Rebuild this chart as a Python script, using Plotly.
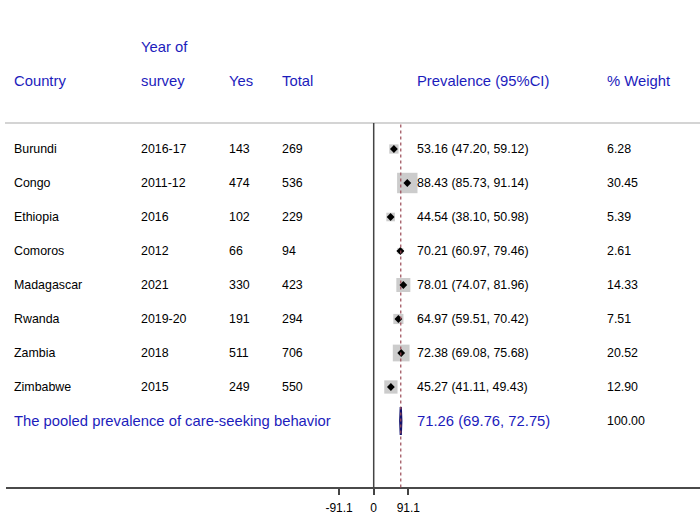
import plotly.graph_objects as go
import math

countries = ["Burundi", "Congo", "Ethiopia", "Comoros", "Madagascar", "Rwanda", "Zambia", "Zimbabwe"]
years = ["2016-17", "2011-12", "2016", "2012", "2021", "2019-20", "2018", "2015"]
yes = [143, 474, 102, 66, 330, 191, 511, 249]
total = [269, 536, 229, 94, 423, 294, 706, 550]
prev = [53.16, 88.43, 44.54, 70.21, 78.01, 64.97, 72.38, 45.27]
lci = [47.20, 85.73, 38.10, 60.97, 74.07, 59.51, 69.08, 41.11]
uci = [59.12, 91.14, 50.98, 79.46, 81.96, 70.42, 75.68, 49.43]
weight = [6.28, 30.45, 5.39, 2.61, 14.33, 7.51, 20.52, 12.90]

pooled_label = "The pooled prevalence of care-seeking behavior"
pooled_est, pooled_lci, pooled_uci = 71.26, 69.76, 72.75
pooled_weight = 100.00

tick_vals = [-91.1, 0, 91.1]
tick_text = ["-91.1", "0", "91.1"]

headers_top = ["", "Year of", "", "", "", ""]
headers = ["Country", "survey", "Yes", "Total", "Prevalence (95%CI)", "% Weight"]

W, H = 700, 531
BLUE = "#1c1cbc"
NAVY = "#12126e"
FONT = "Liberation Sans, Arial, sans-serif"
col_px = [14, 141, 229, 282, 417, 607]
PAD = 2  # annotation internal padding

rows = list(range(len(countries)))
pooled_row = len(countries)

fig = go.Figure()

# CI lines
for i in rows:
    fig.add_trace(go.Scatter(x=[lci[i], uci[i]], y=[i, i], mode="lines",
                             line=dict(color="black", width=1), showlegend=False, hoverinfo="skip"))

# weight boxes
fig.add_trace(go.Scatter(
    x=prev, y=rows, mode="markers",
    marker=dict(symbol="square", color="#b6b6b6",
                size=[3.7 * math.sqrt(w) for w in weight], line=dict(width=0)),
    showlegend=False, hoverinfo="skip"))

# point estimates
fig.add_trace(go.Scatter(
    x=prev, y=rows, mode="markers",
    marker=dict(symbol="diamond", color="black", size=6, line=dict(width=0)),
    showlegend=False, hoverinfo="skip"))

# pooled diamond
h = 0.41
fig.add_trace(go.Scatter(
    x=[pooled_lci, pooled_est, pooled_uci, pooled_est, pooled_lci],
    y=[pooled_row, pooled_row - h, pooled_row, pooled_row + h, pooled_row],
    mode="lines", fill="toself", fillcolor=NAVY,
    line=dict(color=NAVY, width=2.2), showlegend=False, hoverinfo="skip"))

shapes = []
shapes.append(dict(type="line", xref="paper", yref="y", x0=5 / W, x1=1, y0=-0.765, y1=-0.765,
                   line=dict(color="#d4d4d4", width=2)))
shapes.append(dict(type="line", xref="paper", yref="paper", x0=6 / W, x1=1, y0=0, y1=0,
                   line=dict(color="#4a4a4a", width=2)))
shapes.append(dict(type="line", xref="x", yref="y", x0=0, x1=0, y0=-0.765, y1=9.971,
                   line=dict(color="#444444", width=1.5)))
shapes.append(dict(type="line", xref="x", yref="y", x0=pooled_est, x1=pooled_est, y0=-0.72, y1=9.971,
                   line=dict(color="#9a4a55", width=1.2, dash="3px,3px")))

ann = []
def add_text(px, row, text, color="black", size=12.4):
    ann.append(dict(x=(px - PAD) / W, xref="paper", y=row, yref="y", text=text, showarrow=False,
                    xanchor="left", yanchor="middle", font=dict(family=FONT, size=size, color=color)))

for c, t in zip(col_px, headers_top):
    if t:
        add_text(c, -3, t, BLUE, 14.8)
for c, t in zip(col_px, headers):
    add_text(c, -2, t, BLUE, 14.8)

for i in rows:
    vals = [countries[i], years[i], str(yes[i]), str(total[i]),
            f"{prev[i]:.2f} ({lci[i]:.2f}, {uci[i]:.2f})", f"{weight[i]:.2f}"]
    for c, t in zip(col_px, vals):
        add_text(c, i, t)

add_text(col_px[0], pooled_row, pooled_label, BLUE, 14.8)
add_text(col_px[4], pooled_row, f"{pooled_est:.2f} ({pooled_lci:.2f}, {pooled_uci:.2f})", BLUE, 14.8)
add_text(col_px[5], pooled_row, f"{pooled_weight:.2f}")

fig.update_layout(
    width=W, height=H,
    margin=dict(l=0, r=0, t=0, b=43),
    paper_bgcolor="white", plot_bgcolor="white",
    shapes=shapes, annotations=ann,
    xaxis=dict(range=[-983.9, 859.1], showgrid=False, zeroline=False, showline=False,
               tickmode="array", tickvals=tick_vals, ticktext=tick_text,
               ticks="outside", ticklen=6, tickwidth=1.5, tickcolor="#444444",
               ticklabelstandoff=3,
               tickfont=dict(family=FONT, size=12, color="black")),
    yaxis=dict(range=[9.971, -4.382], showgrid=False, zeroline=False, showline=False,
               showticklabels=False, ticks=""),
)

fig.write_html("out.html", config={"displayModeBar": False},
               post_script="document.body.style.margin='0';document.body.style.padding='0';document.body.style.overflow='hidden';")
